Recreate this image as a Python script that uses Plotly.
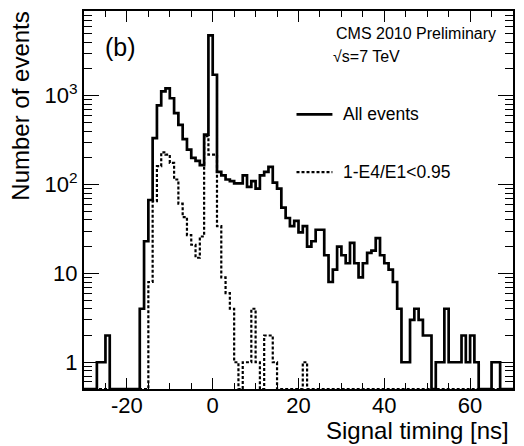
import numpy as np
import plotly.graph_objects as go

# 1 ns timing bins from -30 ns to 70 ns (lower bin edges)
bin_lo = np.arange(-30, 70)
bin_width = 1.0

# Counts per bin, all events
all_events = [
    0, 0, 0, 1, 1, 2, 0, 0, 0, 0,
    0, 0, 0, 4, 23, 67, 333, 776, 1120, 1210,
    935, 635, 470, 325, 247, 200, 185, 165, 365, 4780,
    1720, 139, 127, 114, 109, 103, 103, 127, 94, 109,
    90, 127, 139, 158, 105, 90, 55, 42, 34, 39,
    29, 34, 20, 23, 31, 31, 16, 8, 11, 20,
    16, 13, 22, 13, 9, 13, 17, 18, 25, 16,
    13, 11, 8, 4, 1, 1, 3, 4, 3, 2,
    2, 0, 1, 1, 4, 1, 1, 1, 2, 1,
    2, 1, 0, 0, 0, 1, 1, 0, 0, 0,
]

# Counts per bin after the 1-E4/E1<0.95 selection
swiss_cut = [
    0, 0, 0, 0, 0, 0, 0, 0, 0, 0,
    0, 0, 0, 0, 0, 8, 65, 161, 230, 217,
    175, 114, 61, 43, 27, 21, 15, 26, 350, 217,
    217, 34, 9, 6, 4, 1, 0, 1, 1, 4,
    1, 0, 2, 2, 1, 0, 0, 0, 0, 0,
    0, 1, 0, 0, 0, 0, 0, 0, 0, 0,
    0, 0, 0, 0, 0, 0, 0, 0, 0, 0,
    0, 0, 0, 0, 0, 0, 0, 0, 0, 0,
    0, 0, 0, 0, 0, 0, 0, 0, 0, 0,
    0, 0, 0, 0, 0, 0, 0, 0, 0, 0,
]

series_names = ["All events", "1-E4/E1<0.95"]
x_tick_vals = [-20, 0, 20, 40, 60]
x_tick_text = ["-20", "0", "20", "40", "60"]
y_tick_vals = [1, 10, 100, 1000]
y_tick_text = ["1", "10", "10<sup>2</sup>", "10<sup>3</sup>"]

X_RANGE = [-30, 70]
Y_MIN, Y_MAX = 0.5, 10 ** 3.953   # empty bins are drawn on the lower frame

W, H = 524, 446
ML, MR, MT, MB = 84, 10, 9, 57
PW, PH = W - ML - MR, H - MT - MB
FONT = "Liberation Sans, Arial, Helvetica, sans-serif"


def px_x(px):
    return (px - ML) / PW


def px_y(py):
    return (H - MB - py) / PH


def step_xy(counts):
    c = np.maximum(np.asarray(counts, dtype=float), Y_MIN)
    x = np.append(bin_lo, bin_lo[-1] + bin_width)
    y = np.append(c, c[-1])
    return x, y


fig = go.Figure()

xs, ys = step_xy(swiss_cut)
fig.add_trace(go.Scatter(
    x=xs, y=ys, mode="lines", name=series_names[1], showlegend=False,
    line=dict(color="black", width=2.2, dash="3px,2px", shape="hv"),
    hoverinfo="skip",
))
xa, ya = step_xy(all_events)
fig.add_trace(go.Scatter(
    x=xa, y=ya, mode="lines", name=series_names[0], showlegend=False,
    line=dict(color="black", width=2.7, shape="hv"),
    hoverinfo="skip",
))

tick_font = dict(family=FONT, size=22, color="black")

fig.update_layout(
    width=W, height=H, autosize=False,
    margin=dict(l=ML, r=MR, t=MT, b=MB, pad=0),
    paper_bgcolor="white", plot_bgcolor="white",
    showlegend=False,
    xaxis=dict(
        range=X_RANGE, showgrid=False, zeroline=False,
        showline=True, linecolor="black", linewidth=2, mirror="ticks",
        ticks="inside", ticklen=11, tickwidth=1, tickcolor="black",
        tickmode="array", tickvals=x_tick_vals, ticktext=x_tick_text,
        tickfont=tick_font, ticklabelstandoff=-4,
        minor=dict(ticks="inside", ticklen=6, tickwidth=1, tickcolor="black",
                   dtick=5, tick0=0, showgrid=False),
    ),
    yaxis=dict(
        type="log", range=[np.log10(Y_MIN), np.log10(Y_MAX)],
        showgrid=False, zeroline=False,
        showline=True, linecolor="black", linewidth=2, mirror="ticks",
        ticks="inside", ticklen=15, tickwidth=1, tickcolor="black",
        tickmode="array", tickvals=y_tick_vals, ticktext=y_tick_text,
        tickfont=tick_font,
        minor=dict(ticks="inside", ticklen=8, tickwidth=1, tickcolor="black",
                   dtick="D1", showgrid=False),
    ),
)

# Legend samples drawn inside the frame
legend_rows = [(113, "solid", 2.7), (171, "3px,2px", 2.2)]
for (py, dash, lw), label in zip(legend_rows, series_names):
    fig.add_shape(type="line", xref="paper", yref="paper",
                  x0=px_x(297), x1=px_x(333), y0=px_y(py), y1=px_y(py),
                  line=dict(color="black", width=lw, dash=dash))
    fig.add_annotation(xref="paper", yref="paper", x=px_x(342), y=px_y(py),
                       xanchor="left", yanchor="middle", showarrow=False,
                       text=label, font=dict(family=FONT, size=17.5, color="black"))

# Labels
fig.add_annotation(xref="paper", yref="paper", x=px_x(103), y=px_y(45),
                   xanchor="left", yanchor="middle", showarrow=False,
                   text="(b)", font=dict(family=FONT, size=25, color="black"))
fig.add_annotation(xref="paper", yref="paper", x=px_x(335), y=px_y(32),
                   xanchor="left", yanchor="middle", showarrow=False,
                   text="CMS 2010 Preliminary", font=dict(family=FONT, size=16, color="black"))
fig.add_annotation(xref="paper", yref="paper", x=px_x(332), y=px_y(55),
                   xanchor="left", yanchor="middle", showarrow=False,
                   text="√s=7 TeV", font=dict(family=FONT, size=16, color="black"))
fig.add_annotation(xref="paper", yref="paper", x=px_x(512), y=px_y(431),
                   xanchor="right", yanchor="middle", showarrow=False,
                   text="Signal timing [ns]", font=dict(family=FONT, size=24, color="black"))
fig.add_annotation(xref="paper", yref="paper", x=px_x(20), y=px_y(8),
                   xanchor="center", yanchor="top", textangle=-90, showarrow=False,
                   text="Number of events", font=dict(family=FONT, size=24, color="black"))

fig.write_html("out.html")
